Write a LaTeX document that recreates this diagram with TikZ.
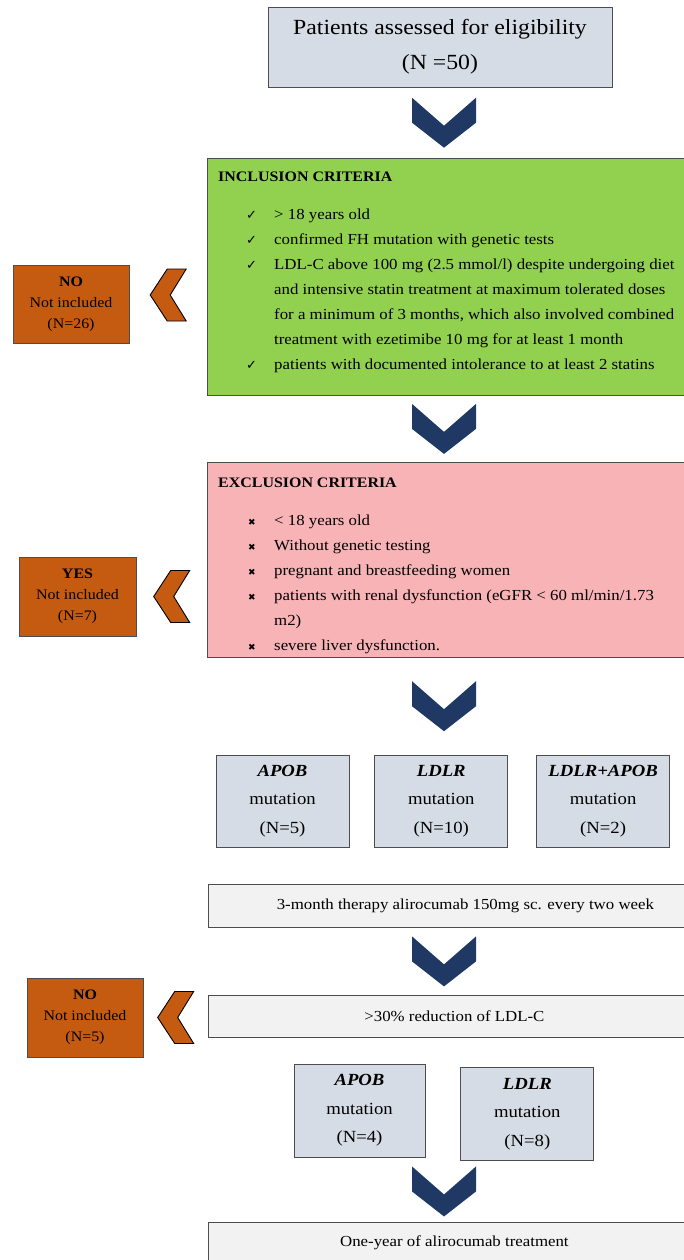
\documentclass[tikz,border=0pt]{standalone}
\usepackage{fontspec}
\setmainfont{Liberation Serif}[FakeStretch=1.1]
\newfontfamily\markfont{DejaVu Sans}
\usetikzlibrary{positioning,calc}

\definecolor{boxblue}{HTML}{D6DCE5}
\definecolor{critgreen}{HTML}{92D050}
\definecolor{critpink}{HTML}{F8B3B6}
\definecolor{outorange}{HTML}{C55A11}
\definecolor{chevnavy}{HTML}{1F3864}
\definecolor{stepgrey}{HTML}{F2F2F2}
\definecolor{edgegrey}{HTML}{4D4D4D}

\newcommand{\incitem}[1]{\hspace*{28pt}\makebox[28pt][l]{\markfont\fontsize{13}{13}\selectfont ✓}#1}
\newcommand{\excitem}[1]{\hspace*{30pt}\makebox[26pt][l]{\markfont\fontsize{9}{9}\selectfont ✖}#1}
\newcommand{\contline}[1]{\hspace*{56pt}#1}

\begin{document}
\begin{tikzpicture}
            [
            x=1pt, y=-1pt,
            box/.style={draw=edgegrey, line width=0.8pt, inner sep=0pt, align=center},
            titlebox/.style={box, fill=boxblue, minimum width=344pt, minimum height=80pt,
                font=\fontsize{21.6}{35}\selectfont},
            critbox/.style={box, minimum width=493pt, anchor=north west},
            crittext/.style={inner sep=0pt, align=left, font=\fontsize{15.3}{25}\selectfont},
            sidebox/.style={box, fill=outorange, minimum width=116pt, minimum height=79pt,
                font=\fontsize{14.5}{21}\selectfont},
            mutbox/.style={box, fill=boxblue, minimum width=133pt, minimum height=92pt,
                font=\fontsize{17}{28.5}\selectfont},
            stepbox/.style={box, fill=stepgrey, minimum width=492pt, anchor=north west,
                font=\fontsize{15.3}{18}\selectfont},
            chevdown/.pic={\fill[chevnavy] (-32,-25) -- (0,3) -- (32,-25) -- (32,0)
                -- (0,25) -- (-32,0) -- cycle;},
            chevleft/.pic={\draw[fill=outorange, line width=0.9pt, line join=miter] (-18,0)
                -- (-1,-26) -- (18,-26) -- (2,0) -- (18,26) -- (-1,26) -- cycle;}
            ]
            \useasboundingbox (0,0) rectangle (684,1260);
            \coordinate (axis) at (444,0);

            \node (top) [titlebox] at (440,47) {Patients assessed for eligibility\\(N =50)};

            % Inclusion
            \node (inc) [critbox, fill=critgreen, minimum height=237pt] at (207,158) {};
            \node (inctext) [crittext, below right=13.5pt and 11pt of inc.north west]
                {{\bfseries\fontsize{14.5}{25}\selectfont INCLUSION CRITERIA}\\[13pt]
                \incitem{> 18 years old}\\
                \incitem{confirmed FH mutation with genetic tests}\\
                \incitem{LDL-C above 100 mg (2.5 mmol/l) despite undergoing diet}\\
                \contline{and intensive statin treatment at maximum tolerated doses}\\
                \contline{for a minimum of 3 months, which also involved combined}\\
                \contline{treatment with ezetimibe 10 mg for at least 1 month}\\
                \incitem{patients with documented intolerance to at least 2 statins}};

            % Exclusion
            \node (exc) [critbox, fill=critpink, minimum height=195pt] at (207,462) {};
            \node (exctext) [crittext, below right=16pt and 11pt of exc.north west]
                {{\bfseries\fontsize{14.5}{25}\selectfont EXCLUSION CRITERIA}\\[13pt]
                \excitem{< 18 years old}\\
                \excitem{Without genetic testing}\\
                \excitem{pregnant and breastfeeding women}\\
                \excitem{patients with renal dysfunction (eGFR < 60 ml/min/1.73}\\
                \contline{m2)}\\
                \excitem{severe liver dysfunction.}};

            % Mutations
            \node (apob) [mutbox] at (282.5,801) {\textbf{\textit{APOB}}\\mutation\\(N=5)};
            \node (ldlr) [mutbox, right=25pt of apob] {\textbf{\textit{LDLR}}\\mutation\\(N=10)};
            \node (both) [mutbox, right=28pt of ldlr] {\textbf{\textit{LDLR+APOB}}\\mutation\\(N=2)};

            \node (therapy) [stepbox, minimum height=43pt] at (208,884)
                {\hspace*{22pt}3-month therapy alirocumab 150mg sc. every two week};
            \node (reduct) [stepbox, minimum height=42pt] at (208,995) {>30\% reduction of LDL-C};

            \node (apobb) [mutbox, minimum width=131pt, minimum height=93pt] at (359.5,1110.5)
                {\textbf{\textit{APOB}}\\mutation\\(N=4)};
            \node (ldlrb) [mutbox, minimum height=93pt, right=35pt of apobb, yshift=-3.5pt]
                {\textbf{\textit{LDLR}}\\mutation\\(N=8)};

            \node (year) [stepbox, minimum height=40pt] at (208,1222) {One-year of alirocumab treatment};

            % Not included
            \node (noa) [sidebox, minimum height=78pt] at (71,304) {\textbf{NO}\\Not included\\(N=26)};
            \node (yes) [sidebox, minimum width=117pt] at (77.5,596.5) {\textbf{YES}\\Not included\\(N=7)};
            \node (nob) [sidebox] at (85,1017.5) {\textbf{NO}\\Not included\\(N=5)};

            % Chevrons
            \coordinate (m1) at ($(top.south)!0.5!(inc.north)$);
            \coordinate (m2) at ($(inc.south)!0.5!(exc.north)$);
            \coordinate (m3) at ($(exc.south)!0.5!(ldlr.north)$);
            \coordinate (m4) at ($(therapy.south)!0.5!(reduct.north)$);
            \coordinate (m5) at ($(ldlrb.south)!0.5!(year.north)$);
            \foreach \m in {m1,m2,m3,m4,m5}
            \pic at (\m -| axis) {chevdown};

            \pic [yshift=9pt] at ($(noa.east)!0.5!(noa.east -| inc.west)$) {chevleft};
            \pic at ($(yes.east)!0.5!(yes.east -| exc.west)$) {chevleft};
            \pic at ($(nob.east)!0.5!(nob.east -| reduct.west)$) {chevleft};
        \end{tikzpicture}
\end{document}
